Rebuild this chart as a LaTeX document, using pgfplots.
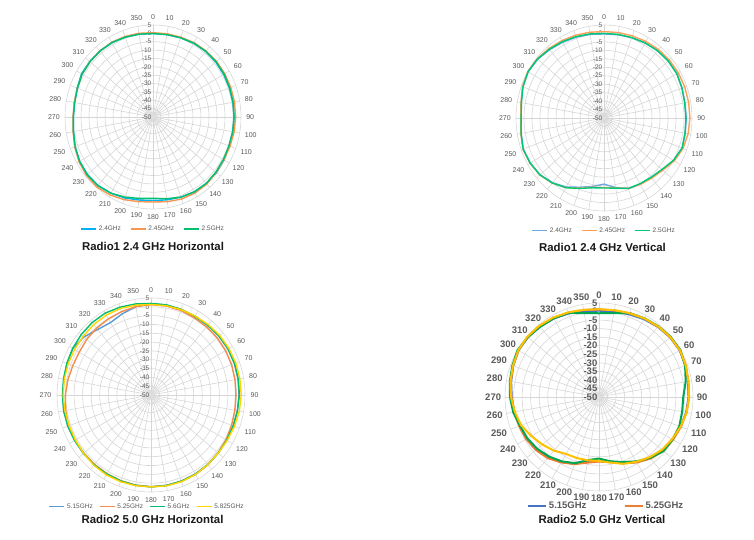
\documentclass[border=0pt]{standalone}
\usepackage{pgfplots}
\pgfplotsset{compat=1.18}
\usepackage{pgfplotstable}
\usepackage{fontspec}
\setmainfont{Liberation Sans}

\definecolor{gridc}{RGB}{214,214,214}
\definecolor{labc}{RGB}{89,89,89}
\definecolor{titc}{RGB}{25,25,25}
\definecolor{aB}{RGB}{0,176,240}
\definecolor{aO}{RGB}{247,150,80}
\definecolor{aG}{RGB}{0,192,112}
\definecolor{bB}{RGB}{110,168,225}
\definecolor{bO}{RGB}{250,160,90}
\definecolor{bG}{RGB}{0,200,120}
\definecolor{cB}{RGB}{91,155,213}
\definecolor{cO}{RGB}{245,139,76}
\definecolor{cG}{RGB}{0,190,110}
\definecolor{cY}{RGB}{255,212,0}
\definecolor{dB}{RGB}{68,114,196}
\definecolor{dO}{RGB}{237,125,49}
\definecolor{dG}{RGB}{0,166,81}
\definecolor{dY}{RGB}{255,192,0}

% Radio1 2.4 GHz Horizontal
\pgfplotstableread{
a b o g
0 -0.1 0.4 -0.1
10 0.0 0.5 0.0
20 0.4 0.8 0.4
30 0.9 1.3 1.0
40 1.2 1.6 1.3
50 1.2 1.8 1.4
60 1.0 1.8 1.3
70 0.8 1.7 1.0
80 0.7 1.7 0.8
90 0.7 1.7 0.7
100 0.6 1.5 0.6
110 0.7 1.2 0.5
120 1.3 1.2 0.8
130 1.8 1.6 1.3
140 1.9 2.3 1.8
150 1.6 2.5 1.7
160 1.0 2.2 1.0
170 0.3 1.4 -0.4
180 -0.1 0.8 -1.4
190 0.4 1.4 -0.6
200 1.5 2.6 1.0
210 2.6 3.8 2.6
220 3.4 4.6 3.6
230 3.5 4.3 3.7
240 3.0 3.4 3.0
250 1.8 2.1 1.8
260 0.5 0.7 0.5
270 -0.2 0.0 -0.2
280 -0.2 0.0 -0.3
290 0.5 0.3 0.2
300 1.6 1.2 1.2
310 1.6 1.5 1.4
320 1.5 1.6 1.5
330 1.3 1.6 1.4
340 0.8 1.2 0.8
350 0.3 0.8 0.3
360 -0.1 0.4 -0.1
}\tA

% Radio1 2.4 GHz Vertical
\pgfplotstableread{
a b o g
0 -0.3 1.1 0.0
10 0.0 1.3 0.2
20 0.6 1.7 0.6
30 1.3 2.3 1.3
40 2.0 2.9 2.0
50 2.5 3.3 2.4
60 2.6 3.6 2.5
70 1.9 3.7 1.8
80 1.4 3.7 1.2
90 1.4 3.7 1.2
100 1.6 3.4 1.4
110 2.1 2.6 1.9
120 0.4 0.7 0.1
130 -2.3 -2.0 -2.7
140 -4.0 -3.6 -4.2
150 -4.8 -4.6 -5.1
160 -5.8 -5.7 -5.6
170 -8.2 -8.0 -7.9
180 -10.9 -8.9 -8.6
190 -8.9 -8.4 -8.1
200 -6.4 -5.9 -5.7
210 -2.9 -2.4 -2.4
220 0.0 0.3 0.2
230 2.2 2.4 2.3
240 3.3 3.4 3.3
250 3.7 3.9 3.8
260 2.6 2.8 2.6
270 1.9 2.0 1.8
280 2.5 2.7 2.4
290 4.0 4.2 3.9
300 4.7 5.0 4.8
310 4.1 4.5 4.3
320 2.8 3.6 3.1
330 1.7 2.8 2.1
340 0.9 2.1 1.2
350 0.2 1.5 0.5
360 -0.3 1.1 0.0
}\tB

% Radio2 5.0 GHz Horizontal
\pgfplotstableread{
a b o g y
0 1.8 1.2 1.9 1.3
10 1.8 1.2 1.9 1.4
20 1.6 1.0 1.7 1.5
30 1.4 0.6 1.5 1.7
40 1.5 0.5 1.7 2.1
50 1.8 0.5 2.0 2.5
60 2.0 0.4 2.2 2.7
70 1.9 0.2 2.1 2.8
80 1.7 -0.1 1.9 2.8
90 1.5 -0.3 1.7 2.8
100 1.3 -0.2 1.4 2.5
110 1.2 0.2 1.2 2.0
120 1.2 0.7 1.2 1.5
130 1.3 1.1 1.3 1.3
140 1.5 1.7 1.6 1.6
150 1.7 2.0 1.9 2.0
160 1.9 2.1 2.0 2.3
170 2.0 2.1 2.1 2.3
180 2.0 2.0 2.1 2.1
190 1.9 1.9 2.0 2.2
200 1.8 1.7 1.9 2.3
210 1.7 1.5 1.8 2.3
220 1.6 1.4 1.7 2.0
230 1.5 1.3 1.6 1.5
240 1.5 1.3 1.6 1.1
250 1.7 1.2 1.8 1.0
260 1.8 0.7 1.9 1.2
270 1.7 0.1 1.8 1.4
280 1.8 -0.6 2.0 1.5
290 2.3 -1.3 2.4 1.6
300 2.8 -1.5 2.9 1.6
310 1.2 -0.9 3.3 1.8
320 -1.5 -0.5 3.6 2.1
330 -2.6 -0.2 3.6 2.3
340 -1.0 0.3 3.0 2.2
350 0.8 0.9 2.4 1.7
360 1.8 1.2 1.9 1.3
}\tC

% Radio2 5.0 GHz Vertical
\pgfplotstableread{
a b o g y
0 0.5 1.3 -1.0 1.3
10 0.8 1.5 -0.2 1.6
20 1.5 2.1 2.3 2.2
30 2.6 3.0 3.2 3.1
40 3.6 3.8 4.0 3.9
50 4.3 4.5 4.7 4.5
60 4.5 4.7 5.0 4.7
70 3.8 4.0 3.6 4.0
80 2.8 3.1 1.5 3.1
90 2.4 2.7 -0.7 2.7
100 1.8 2.0 -0.6 2.1
110 0.8 1.0 0.0 0.8
120 -0.4 0.0 -0.3 -0.6
130 -1.5 -0.8 -0.8 -1.9
140 -3.6 -3.0 -3.5 -4.0
150 -6.0 -5.8 -6.5 -6.2
160 -9.0 -8.7 -9.5 -8.4
170 -11.5 -11.3 -11.8 -11.0
180 -12.5 -12.2 -14.0 -12.6
190 -11.5 -11.0 -12.5 -12.4
200 -8.5 -8.2 -8.8 -12.0
210 -6.0 -5.8 -6.5 -11.5
220 -3.8 -3.3 -4.5 -9.0
230 -2.0 -1.8 -2.8 -6.7
240 -1.0 -0.8 -1.6 -4.3
250 -0.5 -0.3 -0.8 -1.5
260 0.3 0.5 1.0 0.0
270 1.1 1.3 2.1 1.5
280 2.2 2.4 3.0 2.6
290 3.4 3.6 3.9 3.6
300 4.4 4.6 5.0 4.6
310 4.4 4.6 4.4 4.8
320 3.8 4.0 3.6 4.4
330 3.0 3.3 3.1 3.7
340 2.0 2.4 2.4 2.7
350 1.0 1.7 -0.2 1.8
360 0.5 1.3 -1.0 1.3
}\tD

\pgfplotsset{
  radar/.style={
    hide axis, clip=false, anchor=center,
    xmin=-60, xmax=60, ymin=-60, ymax=60,
    legend style={draw=none, fill=none, legend columns=-1, anchor=center,
      inner sep=0pt, text=labc,
      font=\fontsize{6.5}{7}\selectfont,
      /tikz/every even column/.append style={column sep=7pt}},
    legend image code/.code={\draw[##1, line width=1.6pt] (0pt,0pt) -- (15pt,0pt);},
  },
  ser/.style={#1, line width=1.4pt, data cs=polar},
}
\tikzset{
  alabS/.style={font=\fontsize{7}{8}\selectfont, text=labc, inner sep=0.3pt},
  rlabS/.style={font=\fontsize{6.5}{7}\selectfont, text=labc, anchor=east, inner sep=0.5pt, xshift=-1pt},
  alabB/.style={font=\bfseries\fontsize{9.5}{10}\selectfont, text=labc, inner sep=0.3pt},
  rlabB/.style={font=\bfseries\fontsize{9.5}{10}\selectfont, text=labc, anchor=east, inner sep=0.5pt, xshift=-1pt},
}

\newcommand{\radargrid}[3]{% #1 angle label style, #2 radial label style, #3 label radius
  \pgfplotsinvokeforeach{5,10,...,55}{\draw[gridc, line width=0.6pt] (axis cs:0,0) ellipse [x radius=##1, y radius=##1];}
  \pgfplotsinvokeforeach{0,10,...,350}{\draw[gridc, line width=0.6pt] (axis cs:0,0) -- (axis cs:{55*sin(##1)},{55*cos(##1)});}
  \fill[gridc!80!black!40] (axis cs:0,0) circle [radius=1.6];
  \pgfplotsinvokeforeach{0,10,...,350}{%
    \pgfmathtruncatemacro\anc{270-##1}%
    \edef\temp{\noexpand\node[#1, anchor=\anc] at (axis cs:{#3*sin(##1)},{#3*cos(##1)}) {##1};}\temp}
  \pgfplotsinvokeforeach{5,0,...,-50}{\node[#2] at (axis cs:0,{##1+50}) {##1};}
}

\begin{document}
\begin{tikzpicture}[x=1pt,y=1pt]
\useasboundingbox (0,0) rectangle (754,540);

% ---------- Plot 1 ----------
\begin{axis}[radar, x=1.6pt, y=1.673pt, at={(153pt,423pt)},
  legend style={at={(0.5,-0.0575)}}]
  \radargrid{alabS}{rlabS}{58}
  \addplot[ser=aB] table[x expr=90-\thisrow{a}, y expr=\thisrow{b}+50] {\tA};
  \addlegendentry{2.4GHz}
  \addplot[ser=aO] table[x expr=90-\thisrow{a}, y expr=\thisrow{o}+50] {\tA};
  \addlegendentry{2.45GHz}
  \addplot[ser=aG] table[x expr=90-\thisrow{a}, y expr=\thisrow{g}+50] {\tA};
  \addlegendentry{2.5GHz}
\end{axis}

% ---------- Plot 2 ----------
\begin{axis}[radar, x=1.6pt, y=1.691pt, at={(604pt,422pt)},
  legend style={at={(0.5,-0.055)}}]
  \radargrid{alabS}{rlabS}{58}
  \addplot[ser=bB] table[x expr=90-\thisrow{a}, y expr=\thisrow{b}+50] {\tB};
  \addlegendentry{2.4GHz}
  \addplot[ser=bO] table[x expr=90-\thisrow{a}, y expr=\thisrow{o}+50] {\tB};
  \addlegendentry{2.45GHz}
  \addplot[ser=bG] table[x expr=90-\thisrow{a}, y expr=\thisrow{g}+50] {\tB};
  \addlegendentry{2.5GHz}
\end{axis}

% ---------- Plot 3 ----------
\begin{axis}[radar, x=1.709pt, y=1.764pt, at={(151pt,145pt)},
  legend style={at={(0.481,-0.0275)},
    /tikz/every even column/.append style={column sep=4pt}}]
  \radargrid{alabS}{rlabS}{58}
  \addplot[ser=cB] table[x expr=90-\thisrow{a}, y expr=\thisrow{b}+50] {\tC};
  \addlegendentry{5.15GHz}
  \addplot[ser=cO] table[x expr=90-\thisrow{a}, y expr=\thisrow{o}+50] {\tC};
  \addlegendentry{5.25GHz}
  \addplot[ser=cG] table[x expr=90-\thisrow{a}, y expr=\thisrow{g}+50] {\tC};
  \addlegendentry{5.6GHz}
  \addplot[ser=cY] table[x expr=90-\thisrow{a}, y expr=\thisrow{y}+50] {\tC};
  \addlegendentry{5.825GHz}
\end{axis}

% ---------- Plot 4 ----------
\begin{axis}[radar, x=1.709pt, y=1.709pt, at={(599pt,143pt)},
  legend style={at={(0.534,-0.032)}, font=\bfseries\fontsize{9.5}{10}\selectfont,
    /tikz/every even column/.append style={column sep=35pt}},
  legend image code/.code={\draw[#1, line width=2.2pt] (0pt,0pt) -- (18pt,0pt);}]
  \radargrid{alabB}{rlabB}{57}
  \addplot[ser=dB, line width=2pt] table[x expr=90-\thisrow{a}, y expr=\thisrow{b}+50] {\tD};
  \addlegendentry{5.15GHz}
  \addplot[ser=dO, line width=2pt] table[x expr=90-\thisrow{a}, y expr=\thisrow{o}+50] {\tD};
  \addlegendentry{5.25GHz}
  \addplot[ser=dG, line width=2pt, forget plot] table[x expr=90-\thisrow{a}, y expr=\thisrow{g}+50] {\tD};
  \addplot[ser=dY, line width=2pt, forget plot] table[x expr=90-\thisrow{a}, y expr=\thisrow{y}+50] {\tD};
\end{axis}

% ---------- Titles ----------
\begin{scope}[every node/.style={font=\bfseries\fontsize{11.4}{13}\selectfont, text=titc}]
\node at (153,294) {Radio1 2.4 GHz Horizontal};
\node at (602.5,293) {Radio1 2.4 GHz Vertical};
\node at (152.5,21) {Radio2 5.0 GHz Horizontal};
\node at (602,21) {Radio2 5.0 GHz Vertical};
\end{scope}
\end{tikzpicture}
\end{document}
